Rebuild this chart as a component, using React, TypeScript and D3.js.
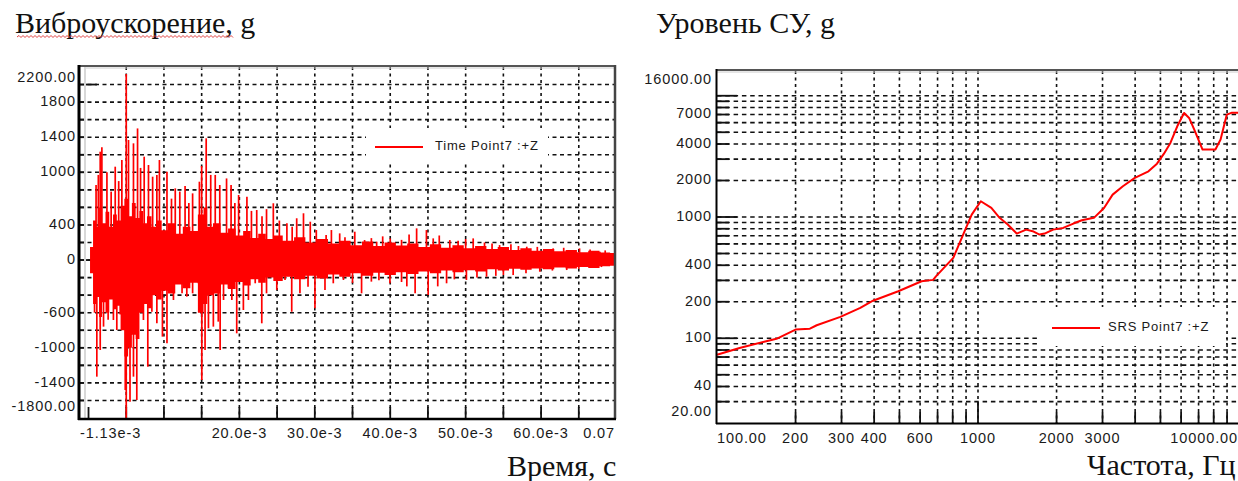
import React from "react";
import * as d3 from "d3";

// ---------- Left chart: time history (ms, g) ----------
const timeDomain: [number, number] = [-1.13, 69.8];
const accDomain: [number, number] = [-1800, 2200];
const accGrid = [-1600, -1400, -1200, -1000, -800, -600, -400, -200, 0, 200, 400, 600, 800, 1000, 1200, 1400, 1600, 1800, 2000];
const timeGrid = [5, 10, 15, 20, 25, 30, 35, 40, 45, 50, 55, 60, 65];
const accLabelValues = [2200, 1800, 1400, 1000, 400, 0, -600, -1000, -1400, -1800];
const accLabelTexts = ["2200.00", "1800", "1400", "1000", "400", "0", "-600", "-1000", "-1400", "-1800.00"];
const timeLabelValues = [-1.13, 20, 30, 40, 50, 60, 69.8];
const timeLabelTexts = ["-1.13e-3", "20.0e-3", "30.0e-3", "40.0e-3", "50.0e-3", "60.0e-3", "0.07"];

// dense core of the signal, read as a ragged envelope
const coreT = [0, 0.4, 0.8, 1.2, 1.6, 2.0, 2.5, 3.0, 3.5, 4.0, 4.5, 5.0, 5.5, 6.0, 6.5, 7.0, 7.5, 8.0, 8.7, 9.4, 10, 11, 12, 13, 14, 15, 15.5, 16, 17, 18, 19, 20, 21, 22, 23, 24, 25, 26.5, 28, 29.5, 31, 32.5, 34, 35.5, 37, 38.5, 40, 41.5, 43, 44.5, 46, 47.5, 49, 50.5, 52, 53.5, 55, 56.5, 58, 59.5, 61, 62.5, 64, 65.5, 67, 68.5, 69.8];
const coreHi = [0, 150, 450, 380, 600, 420, 550, 380, 520, 450, 620, 700, 500, 650, 480, 560, 420, 500, 380, 450, 340, 420, 300, 380, 330, 520, 600, 380, 420, 310, 360, 280, 330, 250, 300, 240, 280, 220, 260, 200, 240, 190, 220, 170, 210, 160, 200, 165, 190, 150, 180, 140, 170, 135, 160, 125, 150, 115, 135, 105, 125, 100, 115, 90, 105, 85, 80];
const coreLo = [0, -150, -500, -420, -650, -480, -600, -450, -560, -520, -800, -1100, -1000, -850, -900, -600, -500, -550, -400, -450, -350, -380, -280, -320, -260, -600, -500, -400, -380, -280, -330, -250, -290, -220, -260, -200, -240, -190, -220, -180, -210, -165, -190, -150, -180, -145, -170, -140, -160, -130, -150, -120, -140, -115, -130, -105, -120, -100, -110, -95, -105, -85, -95, -80, -90, -70, -65];

// individual peaks [ms, g]
const upperPeaks: [number, number][] = [
  [1.0, 855], [1.3, 970], [1.55, 1235], [1.77, 1285], [2.44, 1000], [3.0, 780], [3.54, 1064], [4.0, 900],
  [4.42, 1140], [5.0, 2120], [5.3, 1368], [5.96, 1330], [6.5, 1500], [6.9, 1050], [7.38, 1178], [7.95, 1083],
  [8.5, 950], [9.06, 970], [9.4, 1140], [10.4, 1007], [11.0, 700], [11.5, 817], [12.1, 780], [12.8, 844],
  [13.3, 650], [13.8, 760], [14.7, 893], [15.0, 1072], [15.6, 1387], [16.2, 970], [16.8, 970], [17.4, 855],
  [18.3, 930], [18.9, 855], [19.4, 650], [19.9, 741], [21.0, 722], [21.6, 560], [22.3, 570], [23.0, 500],
  [23.6, 580], [24.5, 647], [25.3, 450], [26.3, 419], [27.0, 380], [27.6, 476], [28.5, 533], [29.4, 437],
  [30.2, 342], [31.5, 285], [32.2, 342], [33.3, 304], [34.0, 260], [35.3, 323], [36.6, 228], [37.5, 250],
  [38.2, 209], [39.0, 270], [40.0, 247], [41.5, 230], [42.5, 290], [43.5, 361], [44.8, 342], [45.7, 247],
  [46.5, 280], [47.9, 228], [49.0, 220], [50.0, 240], [51.0, 247], [52.5, 200], [53.5, 190], [54.5, 171],
  [56.0, 180], [57.0, 160], [58.1, 152], [59.5, 150], [61.6, 133], [63.0, 140], [65.1, 133], [66.5, 120],
  [67.8, 95], [68.5, 110], [69.5, 76],
];
const lowerPeaks: [number, number][] = [
  [0.8, -600], [1.1, -1329], [1.55, -1025], [1.99, -759], [2.6, -680], [3.3, -683], [3.75, -797], [4.2, -620],
  [4.87, -1481], [5.0, -1803], [5.5, -1614], [5.96, -1329], [6.4, -1595], [6.85, -569], [7.28, -683], [7.86, -1215],
  [8.4, -589], [9.06, -721], [9.8, -873], [10.4, -949], [11.26, -455], [12.4, -379], [13.03, -417], [13.8, -379],
  [14.57, -265], [15.02, -1367], [15.45, -1025], [15.9, -778], [16.55, -759], [17.2, -702], [17.45, -1025], [17.9, -455],
  [18.55, -322], [19.0, -455], [19.65, -835], [20.53, -569], [21.2, -455], [22.1, -265], [22.97, -721], [23.6, -379],
  [24.96, -341], [26.05, -227], [26.94, -589], [28.03, -379], [29.1, -303], [30.02, -550], [31.35, -341], [32.45, -265],
  [33.8, -227], [35.0, -260], [36.2, -379], [37.5, -246], [38.5, -230], [39.96, -265], [41.5, -250], [42.2, -300],
  [43.3, -379], [45.03, -398], [46.3, -300], [47.47, -265], [48.5, -220], [50.1, -227], [51.5, -200], [52.77, -190],
  [54.0, -180], [55.0, -170], [56.3, -171], [58.0, -150], [59.83, -133], [61.5, -120], [63.4, -114], [65.0, -100],
  [66.9, -76], [68.0, -80], [69.5, -57],
];

// ---------- Right chart: SRS ----------
const freqDomain: [number, number] = [100, 10000];
const srsDomain: [number, number] = [20, 16000];
const srsFreq = [100, 122, 153, 169, 200, 227, 241, 297, 354, 396, 495, 608, 673, 690, 804, 883, 946, 1025, 1125, 1210, 1300, 1407, 1530, 1620, 1720, 1800, 1940, 2120, 2320, 2500, 2780, 3040, 3280, 3590, 3990, 4500, 4850, 5150, 5460, 5800, 6160, 6440, 6740, 7250, 8120, 8500, 8980, 9400, 10000];
const srsLevel = [73, 83, 94, 99, 118, 120, 128, 150, 178, 204, 244, 295, 303, 324, 460, 739, 1047, 1348, 1188, 984, 866, 730, 787, 764, 716, 730, 787, 813, 883, 940, 984, 1188, 1530, 1792, 2100, 2380, 2755, 3312, 4080, 5600, 7210, 6560, 5260, 3600, 3600, 4360, 6990, 7250, 7250];
const freqGrid = [200, 300, 400, 500, 600, 700, 800, 900, 1000, 2000, 3000, 4000, 5000, 6000, 7000, 8000, 9000];
const levelGrid = [30, 40, 50, 60, 70, 80, 90, 100, 200, 300, 400, 500, 600, 700, 800, 900, 1000, 2000, 3000, 4000, 5000, 6000, 7000, 8000, 9000, 10000];
const levelMajor = [100, 1000, 10000];
const levelLabelValues = [16000, 7000, 4000, 2000, 1000, 400, 200, 100, 40, 20];
const levelLabelTexts = ["16000.00", "7000", "4000", "2000", "1000", "400", "200", "100", "40", "20.00"];
const freqLabelValues = [100, 200, 300, 400, 600, 1000, 2000, 3000, 10000];
const freqLabelTexts = ["100.00", "200", "300", "400", "600", "1000", "2000", "3000", "10000.00"];

const tickFont = { fontFamily: "Liberation Sans, Arial, sans-serif", fontSize: 14.5, letterSpacing: 0.9, fill: "#1a1a1a" } as const;
const titleFont = { fontFamily: "Liberation Serif, Times New Roman, serif", fontSize: 30, fill: "#111" } as const;
const RED = "#ff0000";

export default function App() {
  // left
  const L = { x0: 80, x1: 615, y0: 67, y1: 418 };
  const x = d3.scaleLinear().domain(timeDomain).range([L.x0, L.x1]);
  const y = d3.scaleLinear().domain(accDomain).range([L.y1, L.y0]);
  const coreData = coreT.map((t, i) => ({ t, hi: coreHi[i], lo: coreLo[i] }));
  const area = d3.area<{ t: number; hi: number; lo: number }>()
    .x((d) => x(d.t)).y0((d) => y(d.lo)).y1((d) => y(d.hi)).curve(d3.curveStep);

  // right
  const R = { x0: 717, x1: 1239, y0: 71, y1: 423 };
  const fx = d3.scaleLog().domain(freqDomain).range([R.x0, R.x1]);
  const fy = d3.scaleLog().domain(srsDomain).range([R.y1, R.y0]);
  const srsLine = d3.line<number>().x((_, i) => fx(srsFreq[i])).y((d) => fy(d));

  // spell-check squiggle under the first title
  let squiggle = "M17,37";
  for (let px = 17; px < 232; px += 2) squiggle += ` L${px + 2},${((px - 17) / 2) % 2 === 0 ? 35.5 : 37.5}`;

  return (
    <svg width={1238} height={481} style={{ position: "absolute", left: 0, top: 0, background: "#fff" }}>
      {/* titles */}
      <text x={15} y={33} {...titleFont}>Виброускорение, g</text>
      <path d={squiggle} fill="none" stroke="#e04040" strokeWidth={1} />
      <text x={656} y={33} {...titleFont}>Уровень СУ, g</text>
      <text x={507} y={476} {...titleFont}>Время, с</text>
      <text x={1087} y={475} {...titleFont}>Частота, Гц</text>

      {/* ---------- LEFT CHART ---------- */}
      <g>
        {accGrid.map((v) => (
          <line key={"h" + v} x1={L.x0} x2={L.x1} y1={y(v)} y2={y(v)} stroke="#111" strokeWidth={1.6} strokeDasharray="4,3.5" />
        ))}
        {timeGrid.map((t) => (
          <line key={"v" + t} x1={x(t)} x2={x(t)} y1={L.y0} y2={L.y1} stroke="#111" strokeWidth={1.6} strokeDasharray="3,3.5" />
        ))}
        {accGrid.map((v) => (
          <line key={"ty" + v} x1={L.x0} x2={L.x0 + (v === 2000 || v === 0 ? 17 : 5)} y1={y(v)} y2={y(v)} stroke="#111" strokeWidth={1.8} />
        ))}
        {[0, ...timeGrid].map((t) => (
          <line key={"tx" + t} x1={x(t)} x2={x(t)} y1={L.y1} y2={L.y1 - 11} stroke="#111" strokeWidth={1.8} />
        ))}
        {/* legend */}
        <rect x={366} y={128} width={182} height={36} fill="#fff" />
        <line x1={375} x2={423} y1={147} y2={147} stroke={RED} strokeWidth={2} />
        <text x={435} y={147} dominantBaseline="middle" {...tickFont} fontSize={13} letterSpacing={0.8}>Time Point7 :+Z</text>
        {/* signal */}
        <path d={area(coreData) || ""} fill={RED} />
        {[...upperPeaks, ...lowerPeaks].map(([t, v], i) => (
          <line key={"s" + i} x1={x(t)} x2={x(t)} y1={y(0)} y2={y(v)} stroke={RED} strokeWidth={1.7} />
        ))}
        {/* frame */}
        <line x1={L.x0} x2={L.x1 + 1} y1={L.y0 - 1} y2={L.y0 - 1} stroke="#555" strokeWidth={2} />
        <line x1={L.x0 + 5} x2={L.x1} y1={L.y0 + 1} y2={L.y0 + 1} stroke="#ccc" strokeWidth={1} />
        <line x1={L.x1} x2={L.x1} y1={L.y0 - 2} y2={L.y1 + 1} stroke="#444" strokeWidth={2.5} />
        <line x1={L.x0 + 5} x2={L.x0 + 5} y1={L.y0} y2={L.y1} stroke="#d8d8d8" strokeWidth={2} />
        <line x1={L.x0 - 1} x2={L.x0 - 1} y1={L.y0 - 2} y2={L.y1 + 2} stroke="#000" strokeWidth={3} />
        <line x1={L.x0 - 2} x2={L.x1 + 1} y1={L.y1 + 1} y2={L.y1 + 1} stroke="#000" strokeWidth={2.5} />
        {/* labels */}
        {accLabelValues.map((v, i) => (
          <text key={"ly" + v} x={76} y={y(v) + (i === 0 ? 11 : i === accLabelValues.length - 1 ? -11 : 0)} textAnchor="end" dominantBaseline="middle" {...tickFont}>{accLabelTexts[i]}</text>
        ))}
        {timeLabelValues.map((t, i) => (
          <text key={"lx" + t} x={i === timeLabelValues.length - 1 ? L.x1 : x(t)} y={434}
            textAnchor={i === 0 ? "start" : i === timeLabelValues.length - 1 ? "end" : "middle"} dominantBaseline="middle" {...tickFont}>{timeLabelTexts[i]}</text>
        ))}
      </g>

      {/* ---------- RIGHT CHART ---------- */}
      <g>
        {levelGrid.map((v) => (
          <line key={"rh" + v} x1={R.x0} x2={R.x1} y1={fy(v)} y2={fy(v)} stroke="#111" strokeWidth={1.6} strokeDasharray="4.5,3.8" />
        ))}
        {freqGrid.map((f) => (
          <line key={"rv" + f} x1={fx(f)} x2={fx(f)} y1={R.y0} y2={R.y1} stroke="#111" strokeWidth={1.6} strokeDasharray="3,3.5" />
        ))}
        {levelGrid.map((v) => (
          <line key={"rty" + v} x1={R.x0} x2={R.x0 + (levelMajor.includes(v) ? 20 : 12)} y1={fy(v)} y2={fy(v)} stroke="#111" strokeWidth={1.8} />
        ))}
        {freqGrid.map((f) => (
          <line key={"rtx" + f} x1={fx(f)} x2={fx(f)} y1={R.y1} y2={R.y1 - (f === 1000 ? 21 : 11)} stroke="#111" strokeWidth={1.8} />
        ))}
        {/* legend */}
        <rect x={1040} y={307} width={186} height={39} fill="#fff" />
        <line x1={1052} x2={1100} y1={328} y2={328} stroke={RED} strokeWidth={2} />
        <text x={1108} y={328} dominantBaseline="middle" {...tickFont} fontSize={13} letterSpacing={0.8}>SRS Point7 :+Z</text>
        {/* curve */}
        <path d={srsLine(srsLevel) || ""} fill="none" stroke={RED} strokeWidth={2} strokeLinejoin="round" />
        {/* frame */}
        <line x1={R.x0} x2={1238} y1={R.y0 - 1} y2={R.y0 - 1} stroke="#555" strokeWidth={2} />
        <line x1={R.x0} x2={1238} y1={R.y0 + 1} y2={R.y0 + 1} stroke="#ccc" strokeWidth={1} />
        <line x1={R.x0 - 0.5} x2={R.x0 - 0.5} y1={R.y0 - 2} y2={R.y1 + 1} stroke="#000" strokeWidth={2} />
        <line x1={R.x0 - 1} x2={1238} y1={R.y1 + 0.5} y2={R.y1 + 0.5} stroke="#000" strokeWidth={2} />
        {/* labels */}
        {levelLabelValues.map((v, i) => (
          <text key={"rly" + v} x={712} y={fy(v) + (i === 0 ? 9 : i === levelLabelValues.length - 1 ? -11 : 0)} textAnchor="end" dominantBaseline="middle" {...tickFont}>{levelLabelTexts[i]}</text>
        ))}
        {freqLabelValues.map((f, i) => (
          <text key={"rlx" + f} x={i === 0 ? R.x0 : i === freqLabelValues.length - 1 ? 1238 : fx(f)} y={439}
            textAnchor={i === 0 ? "start" : i === freqLabelValues.length - 1 ? "end" : "middle"} dominantBaseline="middle" {...tickFont}>{freqLabelTexts[i]}</text>
        ))}
      </g>
    </svg>
  );
}
